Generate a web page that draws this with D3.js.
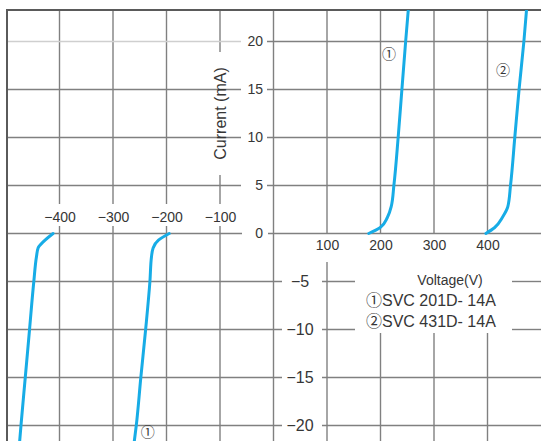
<!DOCTYPE html>
<html>
<head>
<meta charset="utf-8">
<script src="https://cdn.jsdelivr.net/npm/d3@7"></script>
<style>
  html, body { margin: 0; padding: 0; background: #fff; }
  svg { display: block; }
  text { font-family: "Liberation Sans", Arial, "Noto Sans CJK KR", sans-serif; fill: #363636; }
</style>
</head>
<body>
<svg id="chart" width="541" height="441"></svg>
<script>
// Tick values
const currentTicksUp = [20, 15, 10, 5, 0];
const currentTicksDown = [-5, -10, -15, -20];
const voltageTicksNeg = [-400, -300, -200, -100];
const voltageTicksPos = [100, 200, 300, 400];

// V-I characteristics (voltage in V, current in mA)
const svc201FwdV = [178, 199, 213, 220, 225, 233, 240, 247, 253];
const svc201FwdI = [0, 0.6, 1.7, 2.8, 5, 10, 15, 20, 24];
const svc201RevV = [-195, -215, -225, -228, -231, -239, -248, -256.5, -261];
const svc201RevI = [0, -0.7, -1.5, -2.4, -5, -10, -15, -20, -22];
const svc431FwdV = [397, 413, 428, 438, 443, 451, 459, 468, 474];
const svc431FwdI = [0, 0.6, 1.7, 2.8, 5, 10, 15, 20, 24];
const svc431RevV = [-412, -430, -440, -443, -448, -456, -464, -472, -475];
const svc431RevI = [0, -0.85, -1.5, -2.4, -5, -10, -15, -20, -22];

// Curve tags
const tagText = ["①", "②", "①"];
const tagV = [216, 429, -235];
const tagI = [18.7, 17, -20.7];

// Legend
const legendTitle = "Voltage(V)";
const legendItems = ["①SVC 201D- 14A", "②SVC 431D- 14A"];
const axisTitle = "Current (mA)";

(function draw() {
  const W = 541, H = 441;
  const yTop = 10, yBottom = H, xLeft = 7, xRight = W;

  const svg = d3.select("#chart");
  const x = d3.scaleLinear().domain([-500, 500]).range([6, 541]);
  const y = d3.scaleLinear().domain([-20, 20]).range([425.5, 41.5]);

  const gridColor = "#808080";
  const grid = svg.append("g").attr("stroke-width", 1.4).attr("fill", "none");

  function subtract(span, gaps) {
    let segs = [span];
    gaps.forEach(([g0, g1]) => {
      const out = [];
      segs.forEach(([a, b]) => {
        if (g1 <= a || g0 >= b) { out.push([a, b]); return; }
        if (g0 > a) out.push([a, g0]);
        if (g1 < b) out.push([g1, b]);
      });
      segs = out;
    });
    return segs;
  }
  function vLine(px, segs, color) {
    segs.forEach(([a, b]) => grid.append("line")
      .attr("x1", px).attr("x2", px).attr("y1", a).attr("y2", b)
      .attr("stroke", color || gridColor));
  }
  function hLine(py, segs, color) {
    segs.forEach(([a, b]) => grid.append("line")
      .attr("x1", a).attr("x2", b).attr("y1", py).attr("y2", py)
      .attr("stroke", color || gridColor));
  }

  // Vertical grid lines
  voltageTicksNeg.forEach(v => {
    const gaps = v === -100 ? [[52, 175], [204, 226]] : [[204, 226]];
    vLine(x(v), subtract([yTop, yBottom], gaps));
  });
  voltageTicksPos.forEach(v => {
    vLine(x(v), [[yTop, y(0)], [v === 100 ? 262 : 333, yBottom]]);
  });

  // Horizontal grid lines
  currentTicksUp.forEach(c => {
    const py = y(c);
    if (c === 0) {
      hLine(py, [[xLeft, 242], [268, xRight]]);
    } else {
      hLine(py, [[xLeft, 241]], c === 20 ? "#cfcfcf" : gridColor);
      hLine(py, [[267, xRight]]);
    }
  });
  currentTicksDown.forEach(c => {
    const gaps = (c === -5 || c === -10) ? [[282, 322], [355, 512]] : [[282, 322]];
    hLine(y(c), subtract([xLeft, xRight], gaps));
  });

  // Current axis (V = 0)
  vLine(x(0), [[yTop, yBottom]]);

  // Frame
  svg.append("path")
    .attr("d", `M${xLeft},${yBottom}V${yTop}H${xRight}`)
    .attr("fill", "none").attr("stroke", "#5a5a5a").attr("stroke-width", 2);

  // Tick labels via axes
  function styleAxis(g, size) {
    g.select(".domain").remove();
    g.selectAll(".tick line").remove();
    g.attr("font-family", null).attr("font-size", null);
    g.selectAll("text").attr("font-size", size).attr("fill", "#363636");
  }
  const fmt = d3.format("d");

  svg.append("g").attr("transform", "translate(263,0)")
    .call(d3.axisLeft(y).tickValues(currentTicksUp).tickSize(0).tickPadding(0).tickFormat(fmt))
    .call(g => styleAxis(g, 14));

  svg.append("g").attr("transform", "translate(300,0)")
    .call(d3.axisRight(y).tickValues(currentTicksDown).tickSize(0).tickPadding(0).tickFormat(fmt))
    .call(g => { styleAxis(g, 16); g.selectAll("text").attr("text-anchor", "middle"); });

  svg.append("g").attr("transform", "translate(0,222)")
    .call(d3.axisTop(x).tickValues(voltageTicksNeg).tickSize(0).tickPadding(0).tickFormat(fmt))
    .call(g => styleAxis(g, 14));

  svg.append("g").attr("transform", "translate(0,240)")
    .call(d3.axisBottom(x).tickValues(voltageTicksPos).tickSize(0).tickPadding(0).tickFormat(fmt))
    .call(g => styleAxis(g, 14));

  // Axis title on the -100 V grid line
  svg.append("text")
    .attr("transform", `translate(${x(-100) + 6},${(52 + 175) / 2}) rotate(-90)`)
    .attr("text-anchor", "middle")
    .attr("font-size", 16)
    .text(axisTitle);

  // Legend
  svg.append("text").attr("x", 450).attr("y", 285).attr("text-anchor", "middle")
    .attr("font-size", 14).text(legendTitle);
  svg.selectAll(".legend-item").data(legendItems).join("text")
    .attr("class", "legend-item")
    .attr("x", 366).attr("y", (d, i) => 306 + i * 21)
    .attr("font-size", 16)
    .text(d => d);

  // Curves
  svg.append("clipPath").attr("id", "plot-clip")
    .append("rect").attr("x", xLeft).attr("y", yTop)
    .attr("width", xRight - xLeft).attr("height", yBottom - yTop);

  const line = d3.line().x(d => x(d[0])).y(d => y(d[1])).curve(d3.curveMonotoneY);
  const toPoints = (vs, is) => vs.map((v, k) => [v, is[k]]).sort((a, b) => y(a[1]) - y(b[1]));
  const series = [
    toPoints(svc201FwdV, svc201FwdI),
    toPoints(svc201RevV, svc201RevI),
    toPoints(svc431FwdV, svc431FwdI),
    toPoints(svc431RevV, svc431RevI)
  ];
  svg.append("g").attr("clip-path", "url(#plot-clip)")
    .selectAll("path").data(series).join("path")
    .attr("d", line)
    .attr("fill", "none")
    .attr("stroke", "#17ace6")
    .attr("stroke-width", 3)
    .attr("stroke-linecap", "round");

  // Curve tags
  svg.selectAll(".tag").data(tagText).join("text")
    .attr("class", "tag")
    .attr("x", (d, k) => x(tagV[k])).attr("y", (d, k) => y(tagI[k]))
    .attr("dy", "0.35em")
    .attr("text-anchor", "middle")
    .attr("font-size", 14)
    .attr("fill", "#555")
    .text(d => d);
})();
</script>
</body>
</html>
